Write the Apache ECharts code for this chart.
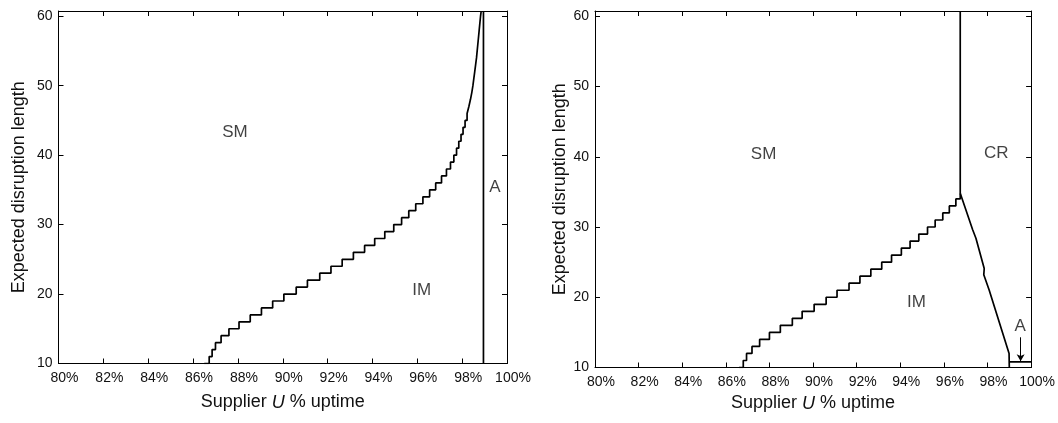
<!DOCTYPE html>
<html>
<head>
<meta charset="utf-8">
<script src="https://cdn.jsdelivr.net/npm/echarts@6/dist/echarts.min.js"></script>
<style>
html,body{margin:0;padding:0;background:#fff;}
#c{width:1058px;height:423px;}
</style>
</head>
<body>
<div id="c"></div>
<script>
// ---- data ----
const xTickValues = [80, 82, 84, 86, 88, 90, 92, 94, 96, 98, 100];
const yTickValues = [10, 20, 30, 40, 50, 60];
const xMin = 80, xMax = 100, yMin = 10, yMax = 60.75;

// Left panel: SM / IM boundary (step starts: uptime %, disruption length)
const leftBoundaryU = [86.5, 86.72, 86.85, 87.0, 87.25, 87.6, 88.05, 88.55, 89.05, 89.55, 90.05, 90.6, 91.1, 91.65, 92.15, 92.65, 93.15, 93.65, 94.1, 94.55, 94.95, 95.3, 95.62, 95.93, 96.25, 96.55, 96.82, 97.08, 97.3, 97.48, 97.63, 97.75, 97.85, 97.95, 98.04, 98.13, 98.22, 98.3, 98.37, 98.43, 98.48, 98.52, 98.56, 98.6, 98.64, 98.67, 98.7, 98.73, 98.76, 98.79, 98.82, 98.85];
const leftBoundaryL = [10, 11, 12, 13, 14, 15, 16, 17, 18, 19, 20, 21, 22, 23, 24, 25, 26, 27, 28, 29, 30, 31, 32, 33, 34, 35, 36, 37, 38, 39, 40, 41, 42, 43, 44, 45, 46, 47, 48, 49, 50, 51, 52, 53, 54, 55, 56, 57, 58, 59, 60, 60.75];
// Left panel: A boundary (vertical)
const leftAU = [98.95, 98.95];
const leftAL = [10, 60.75];
// Left panel region names
const leftRegionNames = ['SM', 'IM', 'A'];
const leftRegionU = [87.87, 96.2, 99.46];
const leftRegionL = [43.3, 20.6, 35.4];

// Right panel: SM / IM boundary (step starts)
const rightBoundaryU = [86.6, 86.8, 86.95, 87.2, 87.55, 88.0, 88.5, 89.05, 89.5, 90.05, 90.6, 91.1, 91.65, 92.15, 92.65, 93.15, 93.6, 94.05, 94.45, 94.85, 95.25, 95.6, 95.95, 96.25, 96.55, 96.75];
const rightBoundaryL = [10, 11, 12, 13, 14, 15, 16, 17, 18, 19, 20, 21, 22, 23, 24, 25, 26, 27, 28, 29, 30, 31, 32, 33, 34, 34.8];
// Right panel: SM / CR boundary (vertical)
const rightCRU = [96.75, 96.75];
const rightCRL = [34.8, 60.75];
// Right panel: IM / CR boundary
const rightIMCRU = [96.75, 97.32, 97.47, 97.85, 97.83, 98.08, 98.99, 99.0];
const rightIMCRL = [34.8, 29.6, 28.4, 24.1, 23.2, 21.0, 12.0, 10];
// Right panel: A region boundary
const rightAU = [99.0, 100];
const rightAL = [10.8, 10.8];
// Right panel arrow from label A
const rightArrowU = [99.52, 99.52];
const rightArrowL = [14.3, 10.9];
// Right panel region names
const rightRegionNames = ['SM', 'CR', 'IM', 'A'];
const rightRegionU = [87.73, 98.4, 94.74, 99.5];
const rightRegionL = [40.3, 40.55, 19.3, 15.8];

// ---- helpers ----
const FONT = "'Liberation Sans', Arial, Helvetica, sans-serif";
const INK = '#111';
const zip = (a, b) => a.map((v, i) => [v, b[i]]);

function xAxisPair(gridIndex, nameGap) {
  const common = {
    type: 'value', gridIndex, min: xMin, max: xMax, interval: 2,
    axisLine: { show: true, lineStyle: { color: '#000', width: 1 } },
    axisTick: { show: true, inside: true, length: 5, lineStyle: { color: '#000', width: 1 } },
    splitLine: { show: false }
  };
  return [
    Object.assign({}, common, {
      position: 'bottom',
      axisLabel: {
        show: true, margin: 8, color: INK, fontFamily: FONT, fontSize: 14,
        formatter: v => '{pad|}{n|' + v + '}{p|%}',
        rich: {
          pad: { width: 12, fontSize: 14, fontFamily: FONT },
          n: { fontSize: 14, fontFamily: FONT, color: INK },
          p: { fontSize: 14, fontFamily: FONT, color: INK }
        }
      },
      name: '{a|Supplier }{i|U}{a| % uptime}',
      nameLocation: 'middle', nameGap,
      nameTextStyle: {
        color: INK, fontFamily: FONT, fontSize: 18,
        rich: {
          a: { fontSize: 18, fontFamily: FONT, color: INK },
          i: { fontSize: 18, fontFamily: FONT, color: INK, fontStyle: 'italic' }
        }
      }
    }),
    Object.assign({}, common, { position: 'top', axisLabel: { show: false } })
  ];
}

function yAxisPair(gridIndex, nameGap) {
  const common = {
    type: 'value', gridIndex, min: yMin, max: yMax, interval: 10,
    axisLine: { show: true, lineStyle: { color: '#000', width: 1 } },
    axisTick: { show: true, inside: true, length: 5, lineStyle: { color: '#000', width: 1 },
                customValues: yTickValues },
    splitLine: { show: false }
  };
  return [
    Object.assign({}, common, {
      position: 'left',
      axisLabel: { show: true, margin: 6, color: INK, fontFamily: FONT, fontSize: 14,
                   customValues: yTickValues, formatter: v => String(v) },
      name: 'Expected disruption length',
      nameLocation: 'middle', nameGap,
      nameTextStyle: { color: INK, fontFamily: FONT, fontSize: 18 }
    }),
    Object.assign({}, common, { position: 'right', axisLabel: { show: false } })
  ];
}

function lineSeries(xi, yi, data, extra) {
  return Object.assign({
    type: 'line', xAxisIndex: xi, yAxisIndex: yi, data,
    showSymbol: false, symbol: 'none', silent: true, animation: false,
    lineStyle: { color: '#000', width: 1.7 }, clip: true
  }, extra || {});
}

function labelSeries(xi, yi, names, us, ls) {
  return {
    type: 'scatter', xAxisIndex: xi, yAxisIndex: yi, symbolSize: 0, silent: true, animation: false,
    itemStyle: { color: 'transparent' },
    data: names.map((n, i) => ({ name: n, value: [us[i], ls[i]] })),
    label: { show: true, position: 'inside', formatter: p => p.name,
             color: INK, fontFamily: FONT, fontSize: 17 }
  };
}

const option = {
  backgroundColor: '#fff',
  animation: false,
  grid: [
    { left: 58.5, top: 11, right: 551, bottom: 59.5, containLabel: false },
    { left: 595, top: 11, right: 26, bottom: 55.5, containLabel: false }
  ],
  xAxis: [...xAxisPair(0, 30), ...xAxisPair(1, 27)],
  yAxis: [...yAxisPair(0, 30), ...yAxisPair(1, 26)],
  series: [
    lineSeries(0, 0, zip(leftBoundaryU, leftBoundaryL), { step: 'end' }),
    lineSeries(0, 0, zip(leftAU, leftAL)),
    labelSeries(0, 0, leftRegionNames, leftRegionU, leftRegionL),
    lineSeries(2, 2, zip(rightBoundaryU, rightBoundaryL), { step: 'end' }),
    lineSeries(2, 2, zip(rightCRU, rightCRL)),
    lineSeries(2, 2, zip(rightIMCRU, rightIMCRL)),
    lineSeries(2, 2, zip(rightAU, rightAL), {
      markLine: {
        silent: true, animation: false,
        symbol: ['none', 'arrow'], symbolSize: [6, 7],
        label: { show: false },
        lineStyle: { color: '#000', width: 1, type: 'solid' },
        data: [[{ coord: [rightArrowU[0], rightArrowL[0]] }, { coord: [rightArrowU[1], rightArrowL[1]] }]]
      }
    }),
    labelSeries(2, 2, rightRegionNames, rightRegionU, rightRegionL)
  ]
};

const chart = echarts.init(document.getElementById('c'), null, { renderer: 'canvas' });
chart.setOption(option);
</script>
</body>
</html>
